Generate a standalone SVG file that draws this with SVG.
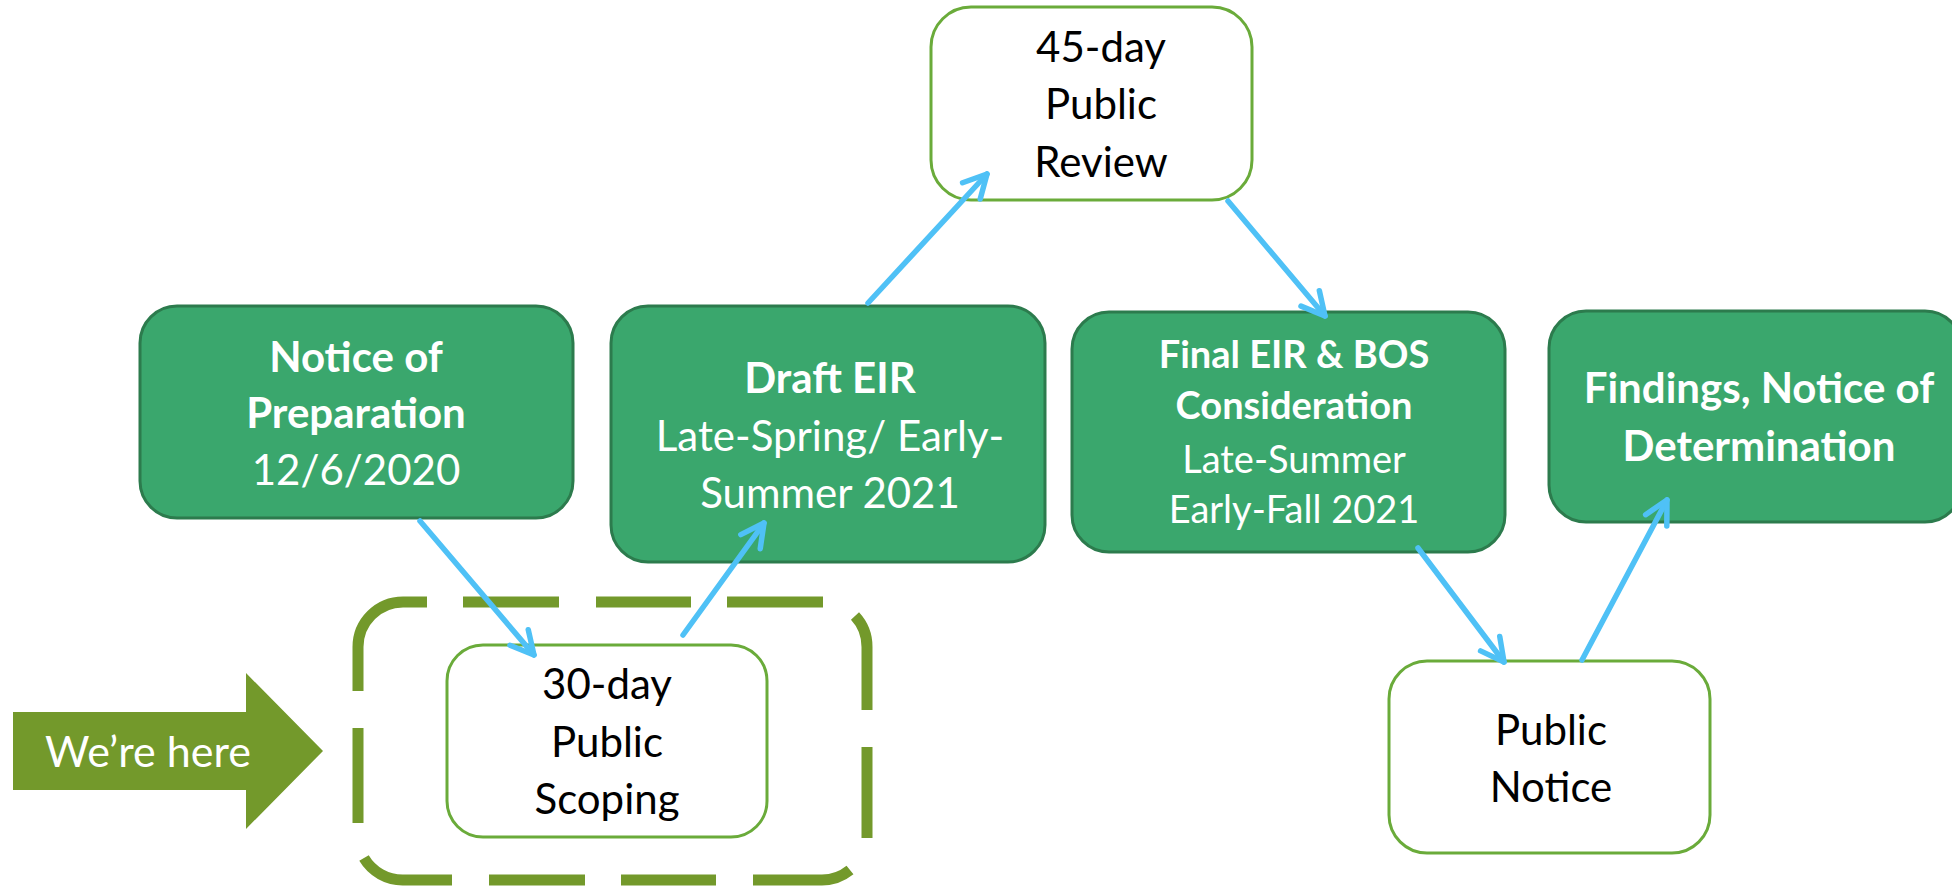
<svg xmlns="http://www.w3.org/2000/svg" width="1952" height="886" viewBox="0 0 1952 886">
<style>
.gbox{fill:#3aa76d;stroke:#2c7b4d;stroke-width:3}
.wbox{fill:#ffffff;stroke:#6aab3a;stroke-width:3}
.t{font-family:Lato,"Open Sans","Liberation Sans",sans-serif;font-size:42px;text-anchor:middle}
.w{fill:#ffffff}
.k{fill:#000000}
.b{font-weight:bold}
.s38{font-size:38px}
.dash{fill:none;stroke:#73992b;stroke-width:11;stroke-linecap:butt}
.conn{fill:none;stroke:#4fc1f6;stroke-width:5.5;stroke-linecap:round;marker-end:url(#ah)}
</style>
<defs>
<marker id="ah" markerUnits="userSpaceOnUse" viewBox="-30 -20 36 40" markerWidth="36" markerHeight="40" refX="0" refY="0" orient="auto" overflow="visible">
<path d="M -23 -12 L 0 0 L -23 12" fill="none" stroke="#4fc1f6" stroke-width="5.5" stroke-linecap="round" stroke-linejoin="round"/>
</marker>
</defs>
<rect width="1952" height="886" fill="#ffffff"/>

<g id="were-here">
<path d="M 13 712 L 246 712 L 246 673 L 323 751 L 246 829 L 246 790 L 13 790 Z" fill="#73992b"/>
<text class="t w" x="148" y="767" style="font-size:43px">We’re here</text>
</g>

<g id="current-stage">
<path class="dash" d="M 358 691 L 358 647 A 45 45 0 0 1 403 602 L 427 602"/>
<path class="dash" d="M 463 602 L 559 602"/>
<path class="dash" d="M 596 602 L 691 602"/>
<path class="dash" d="M 727 602 L 823 602"/>
<path class="dash" d="M 855 616 A 45 45 0 0 1 867 647 L 867 710"/>
<path class="dash" d="M 867 747 L 867 838"/>
<path class="dash" d="M 850 870 A 45 45 0 0 1 822 880 L 753 880"/>
<path class="dash" d="M 716 880 L 621 880"/>
<path class="dash" d="M 585 880 L 489 880"/>
<path class="dash" d="M 452 880 L 403 880 A 45 45 0 0 1 364 858"/>
<path class="dash" d="M 358 823 L 358 728"/>
</g>

<g id="notice-of-preparation">
<rect class="gbox" x="140" y="306" width="433" height="212" rx="37"/>
<text class="t w b" x="356" y="372">Notice of</text>
<text class="t w b" x="356" y="428">Preparation</text>
<text class="t w" x="356" y="485">12/6/2020</text>
</g>

<g id="public-scoping">
<rect class="wbox" x="447" y="645" width="320" height="192" rx="36"/>
<text class="t k" x="607" y="699">30-day</text>
<text class="t k" x="607" y="757">Public</text>
<text class="t k" x="607" y="814">Scoping</text>
</g>

<g id="draft-eir">
<rect class="gbox" x="611" y="306" width="434" height="256" rx="37"/>
<text class="t w b" x="830" y="393">Draft EIR</text>
<text class="t w" x="830" y="451">Late-Spring/ Early-</text>
<text class="t w" x="830" y="508">Summer 2021</text>
</g>

<g id="public-review">
<rect class="wbox" x="931" y="7" width="321" height="193" rx="40"/>
<text class="t k" x="1101" y="62">45-day</text>
<text class="t k" x="1101" y="119">Public</text>
<text class="t k" x="1101" y="177">Review</text>
</g>

<g id="final-eir">
<rect class="gbox" x="1072" y="312" width="433" height="240" rx="37"/>
<text class="t w b s38" x="1294" y="368">Final EIR &amp; BOS</text>
<text class="t w b s38" x="1294" y="419">Consideration</text>
<text class="t w s38" x="1294" y="473">Late-Summer</text>
<text class="t w s38" x="1294" y="523">Early-Fall 2021</text>
</g>

<g id="public-notice">
<rect class="wbox" x="1389" y="661" width="321" height="192" rx="38"/>
<text class="t k" x="1551" y="745">Public</text>
<text class="t k" x="1551" y="802">Notice</text>
</g>

<g id="findings">
<rect class="gbox" x="1549" y="311" width="413" height="211" rx="37"/>
<text class="t w b" x="1759" y="403">Findings, Notice of</text>
<text class="t w b" x="1759" y="461">Determination</text>
</g>

<g id="connectors">
<line class="conn" x1="420" y1="521" x2="534" y2="655"/>
<line class="conn" x1="683" y1="635" x2="764" y2="523"/>
<line class="conn" x1="868" y1="303" x2="987" y2="174"/>
<line class="conn" x1="1228" y1="201" x2="1325" y2="316"/>
<line class="conn" x1="1418" y1="548" x2="1504" y2="662"/>
<line class="conn" x1="1582" y1="660" x2="1667" y2="500"/>
</g>
</svg>
